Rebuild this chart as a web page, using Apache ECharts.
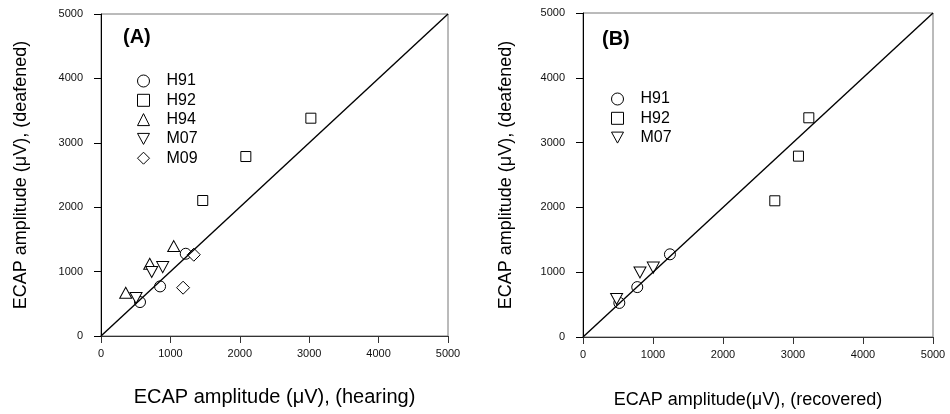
<!DOCTYPE html>
<html>
<head>
<meta charset="utf-8">
<script src="https://cdn.jsdelivr.net/npm/echarts@6/dist/echarts.min.js"></script>
<style>
html,body{margin:0;padding:0;background:#fff;}
#chart{width:950px;height:414px;}
</style>
</head>
<body>
<div id="chart"></div>
<script>
// ---- Data (µV) ----
// Panel A: hearing (x) vs deafened (y)
const A_H91 = [[562, 527], [851, 770], [1221, 1277]];
const A_H92 = [[1466, 2104], [2087, 2787], [3024, 3382]];
const A_H94 = [[356, 672], [702, 1122], [1048, 1396]];
const A_M07 = [[505, 590], [731, 993], [889, 1070]];
const A_M09 = [[1183, 750], [1337, 1262]];
// Panel B: recovered (x) vs deafened (y)
const B_H91 = [[519, 526], [775, 770], [1242, 1276]];
const B_H92 = [[2740, 2102], [3078, 2791], [3226, 3383]];
const B_M07 = [[480, 587], [814, 995], [1004, 1071]];
// identity line
const identity = [[0, 0], [5000, 5000]];
const ticksMin = 0, ticksMax = 5000, tickStep = 1000;

const FONT = "'Liberation Sans', Arial, Helvetica, sans-serif";
const downTri = 'path://M0,0 L12,0 L6,11 Z';
const sym = {
  H91: {symbol: 'circle', size: 11},
  H92: {symbol: 'rect', size: 10},
  H94: {symbol: 'triangle', size: [12, 11]},
  M07: {symbol: downTri, size: [12, 11]},
  M09: {symbol: 'diamond', size: [13, 13]}
};

function scat(name, data, gi) {
  return {
    type: 'scatter', name: name, data: data,
    xAxisIndex: gi, yAxisIndex: gi,
    symbol: sym[name].symbol, symbolSize: sym[name].size,
    itemStyle: {color: '#fff', borderColor: '#000', borderWidth: 1, opacity: 1},
    z: 3, silent: true
  };
}
function line(gi) {
  return {
    type: 'line', data: identity, xAxisIndex: gi, yAxisIndex: gi,
    showSymbol: false, symbol: 'none', lineStyle: {color: '#000', width: 1.4},
    z: 5, silent: true
  };
}
const plain = v => String(v);
function xAx(gi, name, gap, pad) {
  return {
    gridIndex: gi, type: 'value', min: ticksMin, max: ticksMax, interval: tickStep,
    name: name, nameLocation: 'middle', nameGap: gap,
    nameTextStyle: {fontFamily: FONT, fontSize: gi === 0 ? 20 : 18, color: '#000', padding: pad},
    axisLine: {show: true, lineStyle: {color: '#333', width: 1}},
    axisTick: {show: true, inside: false, length: 7, lineStyle: {color: '#333'}},
    axisLabel: {fontFamily: FONT, fontSize: 11, color: '#111', margin: 12, formatter: plain},
    splitLine: {show: false}
  };
}
function yAx(gi, name, gap) {
  return {
    gridIndex: gi, type: 'value', min: ticksMin, max: ticksMax, interval: tickStep,
    name: name, nameLocation: 'middle', nameGap: gap, nameRotate: 90,
    nameTextStyle: {fontFamily: FONT, fontSize: 18, color: '#000'},
    axisLine: {show: true, lineStyle: {color: '#000', width: 1}},
    axisTick: {show: true, inside: false, length: 7, lineStyle: {color: '#000'}},
    axisLabel: {fontFamily: FONT, fontSize: 11, color: '#111', margin: 18, formatter: plain},
    splitLine: {show: false}
  };
}
const legendCommon = {
  orient: 'vertical', itemGap: 3.3, itemWidth: 12, itemHeight: 12, selectedMode: false,
  itemStyle: {borderWidth: 1, borderColor: '#000', color: '#fff'},
  textStyle: {fontFamily: FONT, fontSize: 16, color: '#000', lineHeight: 16, padding: [0, 0, 0, 12]}
};

const chart = echarts.init(document.getElementById('chart'), null, {renderer: 'canvas'});
chart.setOption({
  animation: false,
  backgroundColor: '#fff',
  title: [
    {text: '(A)', left: 118, top: 22, textStyle: {fontFamily: FONT, fontSize: 20, fontWeight: 'bold', color: '#000'}},
    {text: '(B)', left: 597, top: 24, textStyle: {fontFamily: FONT, fontSize: 20, fontWeight: 'bold', color: '#000'}}
  ],
  grid: [
    {left: 101, top: 14, width: 347, height: 322, show: true, borderColor: '#777', borderWidth: 1, backgroundColor: 'transparent'},
    {left: 583, top: 13, width: 350, height: 325, show: true, borderColor: '#777', borderWidth: 1, backgroundColor: 'transparent'}
  ],
  legend: [
    Object.assign({}, legendCommon, {
      data: ['H91', 'H92', 'H94', 'M07', 'M09'].map(n => ({name: n})),
      left: 132, top: 68
    }),
    Object.assign({}, legendCommon, {
      data: ['H91 ', 'H92 ', 'M07 '].map(n => ({name: n})),
      left: 606, top: 86
    })
  ],
  xAxis: [
    xAx(0, 'ECAP amplitude (\u03bcV), (hearing)', 51, [0, 0, 0, 0]),
    xAx(1, 'ECAP amplitude(\u03bcV), (recovered)', 54, [0, 20, 0, 0])
  ],
  yAxis: [
    yAx(0, 'ECAP amplitude (\u03bcV), (deafened)', 71),
    yAx(1, 'ECAP amplitude (\u03bcV), (deafened)', 68)
  ],
  series: [
    line(0),
    scat('H91', A_H91, 0),
    scat('H92', A_H92, 0),
    scat('H94', A_H94, 0),
    scat('M07', A_M07, 0),
    scat('M09', A_M09, 0),
    line(1),
    Object.assign(scat('H91', B_H91, 1), {name: 'H91 '}),
    Object.assign(scat('H92', B_H92, 1), {name: 'H92 '}),
    Object.assign(scat('M07', B_M07, 1), {name: 'M07 '})
  ]
});
</script>
</body>
</html>
